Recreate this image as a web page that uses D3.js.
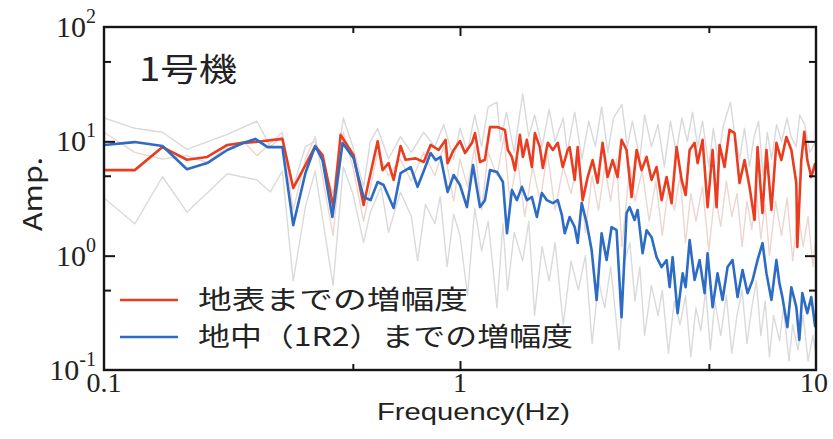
<!DOCTYPE html>
<html>
<head>
<meta charset="utf-8">
<script src="https://cdn.jsdelivr.net/npm/d3@7"></script>
<style>
  body { margin: 0; background: #fff; }
  svg { display: block; }
</style>
</head>
<body>
<svg id="chart" width="833" height="439"></svg>
<script>
// Amplification spectra, unit 1 (1号機): surface and borehole (1R2) ratios

const surfaceFreq = [0.1,0.122,0.146,0.171,0.195,0.222,0.246,0.269,0.317,0.340,0.368,0.392,0.411,0.441,0.462,0.502,0.536,0.587,0.606,0.630,0.651,0.681,0.703,0.751,0.791,0.827,0.871,0.911,0.923,0.960,1.0,1.033,1.081,1.102,1.138,1.175,1.214,1.278,1.337,1.363,1.399,1.427,1.473,1.502,1.541,1.592,1.623,1.676,1.709,1.765,1.823,1.882,1.944,2.007,2.033,2.100,2.141,2.211,2.284,2.358,2.435,2.515,2.598,2.683,2.771,2.843,2.937,3.034,3.134,3.237,3.343,3.453,3.566,3.684,3.805,3.930,4.059,4.193,4.304,4.416,4.561,4.650,4.802,4.960,5.123,5.257,5.360,5.535,5.717,5.905,6.099,6.299,6.506,6.720,6.852,7.075,7.259,7.496,7.740,7.994,8.256,8.527,8.805,8.862,9.093,9.271,9.453,9.699,9.952];
const surfaceAmp = [5.6,5.6,8.9,6.9,7.3,9.3,9.7,9.9,10.5,3.9,6.2,9.1,7.6,2.66,11.4,7.6,2.77,10.0,5.6,6.45,4.6,9.1,6.9,7.1,6.6,9.3,8.4,10.3,6.45,8.4,10.05,7.9,9.7,11.8,6.6,6.9,13.3,13.3,12.6,8.4,7.3,5.6,11.4,7.3,10.3,5.96,11.8,8.9,5.85,9.7,8.4,9.7,5.96,8.4,8.9,4.6,8.9,3.06,4.87,6.86,4.33,9.7,4.87,6.86,4.87,10.3,8.4,3.26,8.4,5.6,7.3,4.6,5.96,3.06,4.87,2.88,8.9,4.6,3.39,8.4,9.7,6.45,10.3,2.66,8.4,2.66,9.3,5.96,12.6,11.8,4.32,6.86,4.0,2.05,8.9,2.36,8.4,2.51,9.7,6.86,10.9,8.4,4.32,1.19,6.86,12.1,6.86,4.87,6.45];

const boreholeFreq = [0.1,0.122,0.146,0.171,0.195,0.222,0.246,0.266,0.288,0.317,0.340,0.368,0.392,0.411,0.438,0.468,0.502,0.536,0.561,0.587,0.610,0.651,0.681,0.727,0.760,0.791,0.827,0.854,0.882,0.923,0.960,1.0,1.046,1.088,1.138,1.175,1.214,1.270,1.320,1.355,1.399,1.445,1.492,1.541,1.592,1.644,1.698,1.754,1.823,1.882,1.932,1.969,2.033,2.100,2.141,2.197,2.269,2.343,2.420,2.499,2.581,2.666,2.753,2.843,2.937,2.995,3.093,3.154,3.258,3.343,3.453,3.566,3.684,3.805,3.880,3.956,4.086,4.221,4.304,4.416,4.561,4.710,4.865,4.960,5.123,5.291,5.464,5.644,5.829,6.021,6.218,6.423,6.634,6.852,7.075,7.259,7.496,7.740,7.892,8.046,8.310,8.527,8.805,8.977,9.152,9.453,9.699,9.952];
const boreholeAmp = [9.3,9.85,9.1,5.7,6.45,8.4,9.66,10.5,8.9,8.9,1.85,5.28,9.1,6.86,2.18,9.66,7.15,3.26,3.06,4.41,4.15,2.61,5.28,5.96,4.0,5.5,7.9,6.86,7.3,3.6,5.07,4.15,2.66,6.2,2.66,3.06,5.6,5.4,4.41,1.57,3.75,3.06,4.0,3.06,3.26,2.18,3.53,3.06,2.88,3.06,2.27,1.57,2.18,1.78,1.29,2.88,1.93,1.12,0.409,1.57,0.915,1.78,1.67,0.29,2.36,2.66,2.05,2.51,1.05,1.67,1.45,0.97,0.795,0.915,0.53,0.97,0.314,0.70,0.53,1.37,0.612,0.915,0.47,1.05,0.355,0.70,0.41,0.795,0.915,0.434,0.748,0.47,0.61,0.915,1.29,0.70,0.41,0.915,0.577,0.434,0.237,0.53,0.355,0.183,0.47,0.314,0.434,0.237];

// individual records drawn faintly behind the averages
const recordAFreq = [0.1,0.122,0.146,0.171,0.222,0.269,0.293,0.317,0.34,0.368,0.392,0.44,0.47,0.5,0.536,0.56,0.587,0.63,0.68,0.73,0.79,0.85,0.9,0.96,1.0,1.05,1.1,1.15,1.2,1.27,1.3,1.35,1.42,1.5,1.56,1.62,1.7,1.78,1.85,1.95,2.0,2.1,2.2,2.3,2.4,2.5,2.6,2.7,2.85,2.95,3.05,3.2,3.3,3.45,3.6,3.75,3.9,4.05,4.2,4.35,4.5,4.65,4.8,5.0,5.15,5.3,5.5,5.75,5.9,6.1,6.3,6.5,6.7,6.9,7.1,7.3,7.5,7.75,8.0,8.3,8.5,8.8,9.0,9.3,9.6,10];
const recordAAmp = [16,13,12,8.5,11.5,15,9,11,4,9,10,3.5,16,9,4,10,13,7,11,8,12,9,14,7,13,8,17,9,20,22,10,18,8,26,11,17,9,19,10,16,8,18,7,15,9,20,8,16,21,9,15,7,17,9,14,6,15,8,16,10,18,9,15,6,13,7,14,22,12,7,13,6,11,15,5,12,7,14,10,16,11,9,17,14,8,10];

const recordBFreq = [0.1,0.122,0.146,0.171,0.222,0.269,0.293,0.317,0.34,0.368,0.392,0.44,0.47,0.5,0.536,0.56,0.6,0.63,0.68,0.73,0.76,0.8,0.85,0.88,0.92,0.96,1.0,1.05,1.1,1.15,1.2,1.27,1.32,1.36,1.42,1.5,1.56,1.62,1.7,1.78,1.85,1.95,2.05,2.15,2.25,2.35,2.45,2.55,2.65,2.8,2.9,3.0,3.1,3.2,3.3,3.45,3.6,3.7,3.85,4.0,4.15,4.3,4.45,4.6,4.75,4.9,5.05,5.2,5.4,5.6,5.8,6.0,6.2,6.4,6.6,6.8,7.0,7.2,7.4,7.6,7.9,8.1,8.4,8.6,8.9,9.2,9.5,9.8,10];
const recordBAmp = [3.2,1.9,4.9,2.4,5.2,4.6,3.6,5.5,0.6,2.7,5.5,0.55,6.0,3.5,1.3,2.4,4.0,1.6,3.6,2.2,0.9,2.8,1.9,3.3,0.8,2.3,1.5,0.45,2.6,1.1,2.0,0.35,1.9,0.5,1.6,0.9,2.0,0.3,1.2,0.6,1.3,0.25,0.9,0.5,1.0,0.17,0.6,0.35,0.8,0.15,0.9,1.3,0.4,0.8,0.2,0.55,0.3,0.5,0.14,0.4,0.25,0.45,0.13,0.35,0.22,0.5,0.15,0.4,0.2,0.45,0.14,0.3,0.5,0.17,0.35,0.6,0.2,0.4,0.13,0.3,0.18,0.35,0.12,0.25,0.15,0.3,0.12,0.2,0.14];

const recordCFreq = [0.1,0.122,0.146,0.171,0.195,0.222,0.246,0.269,0.317,0.34,0.368,0.392,0.44,0.47,0.5,0.536,0.587,0.63,0.68,0.73,0.79,0.85,0.9,0.96,1.0,1.05,1.1,1.15,1.2,1.27,1.33,1.38,1.45,1.52,1.6,1.68,1.76,1.85,1.95,2.05,2.15,2.25,2.35,2.45,2.55,2.65,2.75,2.85,3.0,3.1,3.25,3.4,3.55,3.7,3.85,4.0,4.15,4.3,4.45,4.6,4.8,5.0,5.2,5.4,5.6,5.8,6.0,6.2,6.4,6.6,6.8,7.0,7.2,7.4,7.7,8.0,8.3,8.6,8.9,9.2,9.5,9.8,10];
const recordCAmp = [12,8,7,7.5,6.5,9,10,7.5,12,2.5,7,11,1.5,12,6,2,8,5,7,4.5,8,5,9,3,7,4,9,2.5,8,5,11,3,7,2.2,6,3,8,2.5,6,3.5,7,1.6,5,2.5,6,3,7,1.2,6,3,5.5,2,4.5,1.5,4,2.5,5,1.3,3.5,2,4,1.1,3.5,1.8,4.5,2.2,3.5,1.2,3,1.7,3.8,1.4,2.8,1.0,3,1.5,3.2,0.9,2.5,1.2,2.2,0.8,1.5];

const xTickLabels = ["0.1", "1", "10"];
const xTickValues = [0.1, 1, 10];
const yTickValues = [0.1, 1, 10, 100];
const yTickExponents = ["-1", "0", "1", "2"];
const legendLabels = ["地表までの増幅度", "地中（1R2）までの増幅度"];
const panelTitle = "1号機";

// ---------------------------------------------------------------
const plot = { left: 104, right: 816, top: 27, bottom: 370 };
const x = d3.scaleLog().domain([0.1, 10]).range([plot.left, plot.right]);
const y = d3.scaleLog().domain([0.1, 100]).range([plot.bottom, plot.top]);

const svg = d3.select("#chart");
const jpFont = "'Noto Sans CJK JP', 'Noto Sans', sans-serif";
const latinFont = "'Liberation Sans', 'Noto Sans', sans-serif";
const numFont = "'Liberation Serif', 'DejaVu Serif', serif";

svg.append("rect").attr("width", 833).attr("height", 439).attr("fill", "#fff");

svg.append("defs").append("clipPath").attr("id", "plotClip")
  .append("rect")
  .attr("x", plot.left).attr("y", plot.top)
  .attr("width", plot.right - plot.left).attr("height", plot.bottom - plot.top);

const pairs = (f, a) => f.map((v, i) => [v, a[i]]);
const line = d3.line().x(d => x(d[0])).y(d => y(d[1]));

const marks = svg.append("g").attr("clip-path", "url(#plotClip)");

const records = [
  { data: pairs(recordBFreq, recordBAmp), color: "#dadada" },
  { data: pairs(recordCFreq, recordCAmp), color: "#ebd6d2" },
  { data: pairs(recordAFreq, recordAAmp), color: "#d9d9d9" }
];
records.forEach(r => {
  marks.append("path").datum(r.data)
    .attr("d", line).attr("fill", "none")
    .attr("stroke", r.color).attr("stroke-width", 1.4)
    .attr("stroke-linejoin", "round");
});

const averages = [
  { data: pairs(surfaceFreq, surfaceAmp), color: "#ea3d20" },
  { data: pairs(boreholeFreq, boreholeAmp), color: "#2c6cc4" }
];
averages.forEach(s => {
  marks.append("path").datum(s.data)
    .attr("d", line).attr("fill", "none")
    .attr("stroke", s.color).attr("stroke-width", 2.6)
    .attr("stroke-linejoin", "round");
});

// frame
svg.append("rect")
  .attr("x", plot.left).attr("y", plot.top)
  .attr("width", plot.right - plot.left).attr("height", plot.bottom - plot.top)
  .attr("fill", "none").attr("stroke", "#151515").attr("stroke-width", 2.4);

// inward ticks on all four sides
function tickRow(axisFn, scale, values, len, tx, ty) {
  svg.append("g").attr("transform", `translate(${tx},${ty})`)
    .call(axisFn(scale).tickValues(values).tickSize(-len).tickFormat(""))
    .call(g => g.select(".domain").remove())
    .selectAll("line").attr("stroke", "#151515").attr("stroke-width", 2);
}
tickRow(d3.axisLeft, y, [1, 10], 11, plot.left, 0);
tickRow(d3.axisLeft, y, [0.5, 5, 50], 7, plot.left, 0);
tickRow(d3.axisRight, y, [1, 10], 11, plot.right, 0);
tickRow(d3.axisRight, y, [0.5, 5, 50], 7, plot.right, 0);
tickRow(d3.axisBottom, x, [1], 9, 0, plot.bottom);
tickRow(d3.axisBottom, x, [0.5, 5], 6, 0, plot.bottom);
tickRow(d3.axisTop, x, [1], 9, 0, plot.top);
tickRow(d3.axisTop, x, [0.5, 5], 6, 0, plot.top);

// y tick labels: 10 with superscript exponent
yTickValues.forEach((v, i) => {
  const t = svg.append("text")
    .attr("x", 96).attr("y", y(v) + 10)
    .attr("text-anchor", "end")
    .attr("font-family", numFont).attr("font-size", 30).attr("fill", "#222");
  t.append("tspan").text("10");
  t.append("tspan").attr("dy", -14).attr("font-size", 20).text(yTickExponents[i]);
});

// x tick labels
xTickValues.forEach((v, i) => {
  svg.append("text")
    .attr("x", x(v) + (i === 2 ? -2 : 0)).attr("y", 392)
    .attr("text-anchor", "middle")
    .attr("font-family", numFont).attr("font-size", 28).attr("fill", "#222")
    .text(xTickLabels[i]);
});

// axis titles
svg.append("text")
  .attr("x", 377).attr("y", 420)
  .attr("font-family", latinFont).attr("font-size", 24).attr("fill", "#222")
  .attr("textLength", 193).attr("lengthAdjust", "spacingAndGlyphs")
  .text("Frequency(Hz)");

svg.append("text")
  .attr("transform", "translate(42,231) rotate(-90)")
  .attr("font-family", jpFont).attr("font-size", 26).attr("fill", "#222")
  .attr("textLength", 74).attr("lengthAdjust", "spacingAndGlyphs")
  .text("Amp.");

// panel title
svg.append("text")
  .attr("x", 139).attr("y", 81)
  .attr("font-family", jpFont).attr("font-size", 32).attr("fill", "#222")
  .attr("textLength", 98).attr("lengthAdjust", "spacingAndGlyphs")
  .text(panelTitle);

// legend
const legendRows = [
  { label: legendLabels[0], color: averages[0].color, ly: 300, ty: 309, len: 270 },
  { label: legendLabels[1], color: averages[1].color, ly: 337, ty: 346, len: 375 }
];
legendRows.forEach(r => {
  svg.append("line")
    .attr("x1", 120).attr("x2", 178).attr("y1", r.ly).attr("y2", r.ly)
    .attr("stroke", r.color).attr("stroke-width", 2.6);
  svg.append("text")
    .attr("x", 198).attr("y", r.ty)
    .attr("font-family", jpFont).attr("font-size", 26).attr("fill", "#222")
    .attr("textLength", r.len).attr("lengthAdjust", "spacingAndGlyphs")
    .text(r.label);
});
</script>
</body>
</html>
